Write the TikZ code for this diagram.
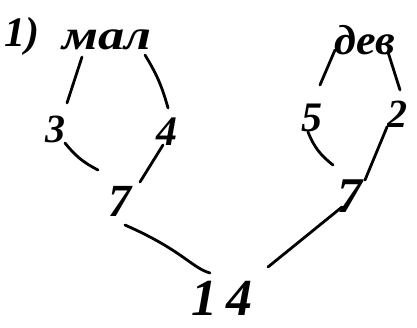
\documentclass[tikz,border=0pt]{standalone}
\usepackage{fontspec}
\setmainfont{Liberation Serif}
\begin{document}
\begin{tikzpicture}[x=1pt,y=-1pt,
  lbl/.style={inner sep=0pt},
  edge/.style={line width=2.8pt,line cap=round}]
\useasboundingbox (0,0) rectangle (417,327);
\node[lbl,font=\bfseries\itshape\fontsize{42}{42}\selectfont] (num) at (22,36) {1)};
\node[lbl,font=\bfseries\itshape\fontsize{42}{42}\selectfont,xscale=1.25] (mal) at (107,40) {мал};
\node[lbl,font=\bfseries\itshape\fontsize{42}{42}\selectfont,xscale=1.05] (dev) at (365,40) {дев};
\node[lbl,font=\bfseries\itshape\fontsize{40}{40}\selectfont] (n3) at (55,129) {3};
\node[lbl,font=\bfseries\itshape\fontsize{42}{42}\selectfont] (n4) at (167,132) {4};
\node[lbl,font=\bfseries\itshape\fontsize{42}{42}\selectfont] (n5) at (312,118) {5};
\node[lbl,font=\bfseries\itshape\fontsize{40}{40}\selectfont] (n2) at (397,114) {2};
\node[lbl,font=\bfseries\itshape\fontsize{46}{46}\selectfont] (s7) at (120,201) {7};
\node[lbl,font=\bfseries\itshape\fontsize{50}{50}\selectfont] (t7) at (350,196) {7};
\node[lbl,font=\bfseries\itshape\fontsize{52}{52}\selectfont] (n14) at (222,298) {1\,4};
\draw[edge] ([shift={(-25,17)}]mal.center) -- ([shift={(12,-26)}]n3.center);
\draw[edge] ([shift={(38,15)}]mal.center) to[bend left=8] ([shift={(1,-24)}]n4.center);
\draw[edge] ([shift={(10,14)}]n3.center) to[bend right=12] ([shift={(-22,-31)}]s7.center);
\draw[edge] ([shift={(-4,13)}]n4.center) -- ([shift={(20,-19)}]s7.center);
\draw[edge] ([shift={(-30,10)}]dev.center) -- ([shift={(8,-33)}]n5.center);
\draw[edge] ([shift={(23,12)}]dev.center) -- ([shift={(3,-24)}]n2.center);
\draw[edge] ([shift={(-4,14)}]n5.center) to[bend right=15] ([shift={(-17,-31)}]t7.center);
\draw[edge] ([shift={(-10,13)}]n2.center) -- ([shift={(15,-16)}]t7.center);
\draw[edge] ([shift={(5,24)}]s7.center) .. controls ([shift={(-40,-48)}]n14.center) and ([shift={(-30,-30)}]n14.center) .. ([shift={(-12,-25)}]n14.center);
\draw[edge] ([shift={(-8,11)}]t7.center) -- ([shift={(46,-31)}]n14.center);
\end{tikzpicture}
\end{document}
